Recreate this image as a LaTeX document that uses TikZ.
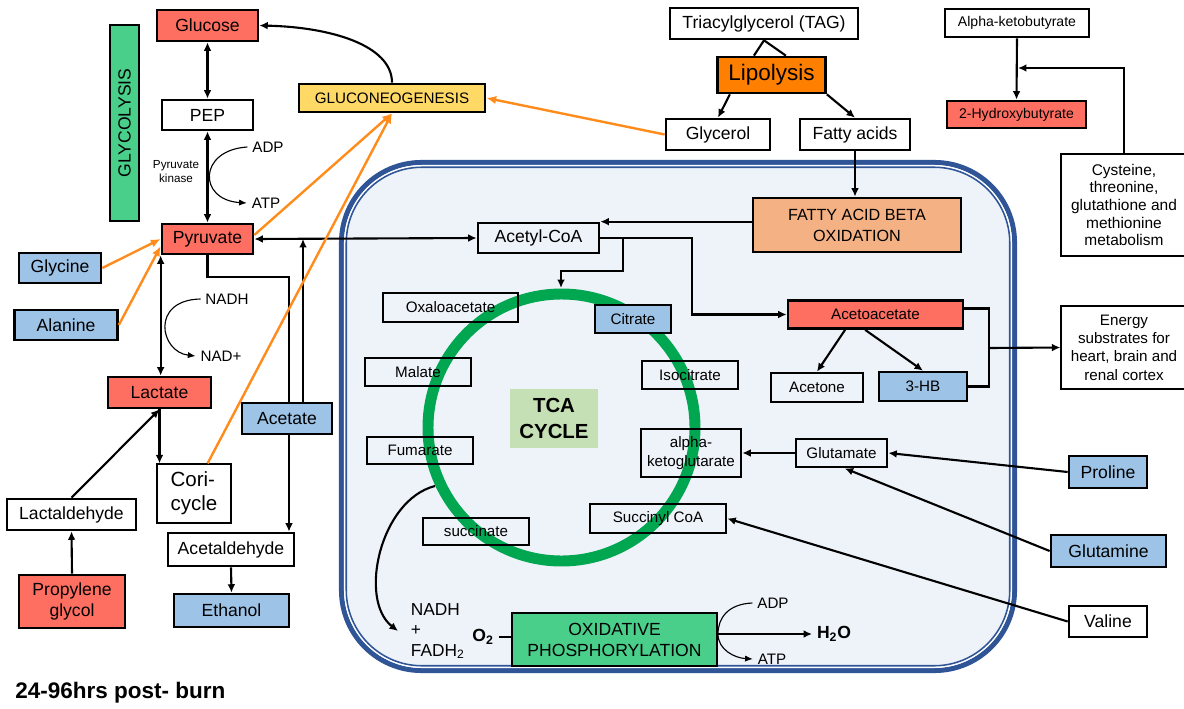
\documentclass[tikz,border=0pt]{standalone}
\usepackage{fontspec}
\setmainfont{Liberation Sans}
\usepackage{xcolor}
\usepackage{tikz}
\usetikzlibrary{arrows.meta,positioning,calc}

\definecolor{sred}{HTML}{FF6F61}
\definecolor{sblue}{HTML}{9DC3E6}
\definecolor{syellow}{HTML}{FFD966}
\definecolor{sorange}{HTML}{FF8000}
\definecolor{speach}{HTML}{F4B183}
\definecolor{sgreen}{HTML}{4ACF8B}
\definecolor{tcabg}{HTML}{C5E0B4}
\definecolor{ringgreen}{HTML}{00A650}
\definecolor{gluarrow}{HTML}{FF8C1A}
\definecolor{mitoline}{HTML}{2F5597}
\definecolor{mitofill}{HTML}{EEF3FA}

\begin{document}
\begin{tikzpicture}[x=0.025cm, y=-0.025cm,
    box/.style={draw, line width=1.9pt, inner sep=1pt, align=center},
    thinbox/.style={draw, line width=0.9pt, inner sep=1pt, align=center},
    wh/.style 2 args={minimum width=#1*0.025cm, minimum height=#2*0.025cm},
    fbig/.style={font=\fontsize{12.5}{15}\selectfont},
    fmid/.style={font=\fontsize{10.8}{13}\selectfont},
    fsmall/.style={font=\fontsize{8.3}{10}\selectfont},
    conn/.style={line width=1.5pt},
    arr/.style={line width=1.5pt, -{Latex[length=6pt,width=5.5pt]}},
    darr/.style={line width=1.5pt, {Latex[length=6pt,width=5.5pt]}-{Latex[length=6pt,width=5.5pt]}},
    garr/.style={gluarrow, line width=1.7pt, -{Latex[length=7pt,width=6pt]}},
    thinarr/.style={line width=0.8pt, -{Latex[length=5.5pt,width=4.5pt]}}]
    \useasboundingbox (0,0) rectangle (1184,709);

    % Mitochondrion
    \draw[mitoline, line width=3.6pt, fill=mitofill, rounded corners=2cm] (341.5,162.5) rectangle (1014.5,670.5);
    \draw[white, line width=1.1pt, rounded corners=1.93cm] (344.75,165.75) rectangle (1011.25,667.25);
    \draw[mitoline, line width=1.1pt, rounded corners=1.89cm] (346.25,167.25) rectangle (1009.75,665.75);

    % TCA ring
    \draw[ringgreen, line width=7.8pt] (561.5,427.5) circle [radius=133.5];
    \coordinate (ringout) at (435,486);

    % Glycolysis side
    \node[box, fill=sgreen, wh={196}{29}, rotate=90, fbig] (glycolysis) at (124.5,123) {GLYCOLYSIS};
    \node[box, fill=sred, wh={101}{31}, fbig] (glucose) at (207.5,25.5) {Glucose};
    \node[box, wh={91}{30}, fbig] (pep) at (207.5,115) {PEP};
    \node[box, fill=sred, wh={91}{30}, fbig] (pyruvate) at (207.5,239) {Pyruvate};
    \node[fsmall, align=center] (pk) at (176,172) {Pyruvate\\kinase};
    \node[fmid] (adp1) at (268,147) {ADP};
    \node[fmid] (atp1) at (266,203) {ATP};
    \node[box, fill=syellow, wh={186}{28}, fmid] (gluco) at (392,98) {GLUCONEOGENESIS};
    \node[box, fill=sblue, wh={82}{30}, fbig] (glycine) at (60,268) {Glycine};
    \node[box, fill=sblue, wh={103}{30}, fbig] (alanine) at (66,325) {Alanine};
    \node[fmid] (nadh) at (227,299) {NADH};
    \node[fmid] (nadp) at (221,356) {NAD+};
    \node[box, fill=sred, wh={103}{31}, fbig] (lactate) at (159.5,392.5) {Lactate};
    \node[thinbox, wh={74}{59}, align=left, font=\fontsize{14.6}{17}\selectfont] (cori) at (194,493.5) {Cori-\\cycle};
    \node[box, wh={129}{31}, fbig] (lactaldehyde) at (71.5,514.5) {Lactaldehyde};
    \node[box, fill=sred, wh={106}{53}, fbig] (propylene) at (72,601.5) {Propylene\\glycol};
    \node[box, wh={126}{33}, fbig] (acetaldehyde) at (231,549.5) {Acetaldehyde};
    \node[box, fill=sblue, wh={115}{33}, fbig] (ethanol) at (231.5,610.5) {Ethanol};

    % Pyruvate to acetaldehyde (under the acetate box)
    \coordinate (pybend) at (289,277);
    \draw[arr] (pyruvate.south) |- (pybend) -- (pybend |- acetaldehyde.north);
    \node[box, fill=sblue, wh={90}{31}, fbig] (acetate) at (287,418.5) {Acetate};

    % Lipolysis
    \node[box, wh={188}{31}, fbig] (tag) at (764,23.5) {Triacylglycerol (TAG)};
    \node[box, fill=sorange, wh={108}{36}, font=\fontsize{16}{19}\selectfont] (lipo) at (771.5,75) {Lipolysis};
    \node[box, wh={104}{31}, fbig] (glycerol) at (718,134.5) {Glycerol};
    \node[box, wh={110}{31}, fbig] (fatty) at (855,134.5) {Fatty acids};
    \node[box, fill=speach, wh={208}{54}, font=\fontsize{11.5}{15}\selectfont] (fabeta) at (857,225) {FATTY ACID BETA\\OXIDATION};

    % Alpha-ketobutyrate
    \node[box, wh={144}{28}, font=\fontsize{10}{12}\selectfont] (akb) at (1017,23) {Alpha-ketobutyrate};
    \node[box, fill=sred, wh={139}{27}, font=\fontsize{10}{12}\selectfont] (hb2) at (1016.5,114.5) {2-Hydroxybutyrate};
    \node[thinbox, wh={126}{102}, font=\fontsize{11}{12.5}\selectfont] (cysteine) at (1124,205) {Cysteine,\\threonine,\\glutathione and\\methionine\\metabolism};
    \coordinate (cysj) at (1018,68);

    % Inside the mitochondrion
    \node[box, wh={121}{30}, fbig] (acetyl) at (538.5,238) {Acetyl-CoA};
    \node[box, wh={135}{29}, fmid] (oxalo) at (450.5,307.5) {Oxaloacetate};
    \node[box, fill=sblue, wh={76}{28}, fmid] (citrate) at (633,319) {Citrate};
    \node[box, wh={106}{28}, fmid] (malate) at (418,372) {Malate};
    \node[box, wh={96}{28}, fmid] (isocit) at (690,375) {Isocitrate};
    \node[fill=tcabg, wh={88}{59}, align=center, font=\bfseries\fontsize{14.5}{18}\selectfont] (tca) at (554,418.5) {TCA\\CYCLE};
    \node[box, wh={106}{27}, fmid] (fumarate) at (420,450.5) {Fumarate};
    \node[box, wh={100}{48}, fmid] (akg) at (691,453) {alpha-\\ketoglutarate};
    \node[box, wh={106}{27}, fmid] (succinate) at (476,531.5) {succinate};
    \node[box, wh={136}{29}, fmid] (succoa) at (658,518.5) {Succinyl CoA};
    \node[box, fill=sred, wh={175}{28}, fmid] (acetoacetate) at (875.5,314.5) {Acetoacetate};
    \node[box, wh={92}{29}, fmid] (acetone) at (817,387.5) {Acetone};
    \node[box, fill=sblue, wh={88}{29}, fmid] (hb3) at (923,386.5) {3-HB};
    \node[box, wh={91}{28}, fmid] (glutamate) at (841.5,453) {Glutamate};
    \node[anchor=west, align=left, font=\fontsize{12.3}{14.5}\selectfont] (nadhfad) at (406,631) {NADH\\+\\FADH\textsubscript{2}};
    \node[font=\bfseries\fontsize{12.5}{15}\selectfont] (o2) at (483,637) {O\textsubscript{2}};
    \node[box, fill=sgreen, wh={205}{53}, fbig] (oxphos) at (614.5,639.5) {OXIDATIVE\\PHOSPHORYLATION};
    \node[font=\bfseries\fontsize{12.5}{15}\selectfont] (h2o) at (834,634) {H\textsubscript{2}O};
    \node[fmid] (adp2) at (773,603) {ADP};
    \node[fmid] (atp2) at (772,659) {ATP};

    % Outside on the right
    \node[thinbox, wh={126}{83}, fmid] (energy) at (1124,347.5) {Energy\\substrates for\\heart, brain and\\renal cortex};
    \node[box, fill=sblue, wh={78}{32}, fbig] (proline) at (1108,472) {Proline};
    \node[box, fill=sblue, wh={115}{32}, fbig] (glutamine) at (1108.5,551) {Glutamine};
    \node[box, wh={78}{31}, fbig] (valine) at (1108,621.5) {Valine};

    % Caption
    \node[anchor=west, inner sep=0pt, font=\bfseries\fontsize{16}{19}\selectfont] (caption) at (15,693) {24-96hrs post- burn};

    % Glycolysis arrows
    \draw[darr] (glucose.south) -- (pep.north);
    \draw[darr] (pep.south) -- (pyruvate.north);
    \draw[thinarr] (adp1.west) .. controls (198,150) and (198,200) .. (atp1.west);
    \draw[darr] (pyruvate.south west) -- (pyruvate.south west |- lactate.north);
    \draw[thinarr] (nadh.west) .. controls (150,300) and (160,352) .. (nadp.west);
    \draw[arr] (lactate.south) -- (lactate.south |- cori.north);
    \draw[arr] (lactaldehyde.north) -- (lactate.south);
    \draw[arr] (propylene.north) -- (lactaldehyde.south);
    \draw[arr] (acetaldehyde.south) -- (ethanol.north);
    \draw[darr] (pyruvate.east) -- (acetyl.west);
    \coordinate (acjoin) at (303,239);
    \draw[arr] (acetate.north -| acjoin) -- (acjoin);
    \draw[arr] (gluco.north) .. controls (392,45) and (330,27) .. (glucose.east);

    % Gluconeogenesis inputs
    \draw[garr] (glycine.east) -- (pyruvate.west);
    \draw[garr] (alanine.east) -- ([yshift=-0.18cm]pyruvate.west);
    \draw[garr] ([yshift=0.1cm]pyruvate.east) -- (gluco.south);
    \draw[garr] ([xshift=0.34cm]cori.north) -- (gluco.south);
    \draw[garr] (glycerol.west) -- (gluco.east);

    % Lipolysis arrows
    \draw[conn] (tag.south) -- ([xshift=-0.44cm]lipo.north);
    \draw[conn] (tag.south) -- ([xshift=0.36cm]lipo.north);
    \draw[arr] ([xshift=-1.04cm]lipo.south) -- (glycerol.north);
    \draw[arr] (lipo.south east) -- (fatty.north);
    \draw[arr] (fatty.south) -- (fatty.south |- fabeta.north);
    \draw[arr] (acetyl.north east -| fabeta.west) -- (acetyl.north east);

    % Acetyl-CoA to TCA and ketones
    \coordinate (acbend) at (692,314.5);
    \draw[arr] (acetyl.east) -| (acbend) -- (acetoacetate.west);
    \coordinate (acsplit) at (623,238);
    \coordinate (tcatop) at (561,288);
    \draw[arr] (acsplit) -- (623,271) -| (tcatop);
    \draw[arr] ([xshift=-0.76cm]acetoacetate.south) -- (acetone.north);
    \draw[arr] ([xshift=-0.26cm]acetoacetate.south) -- (hb3.north);
    \coordinate (kbr) at (989,348);
    \draw[conn] ([yshift=0.15cm]acetoacetate.east) -| (kbr) |- (hb3.east);
    \draw[arr] (kbr) -- (energy.west);

    % Amino acids
    \draw[arr] (glutamate.west) -- (akg.east);
    \draw[arr] (proline.west) -- (glutamate.east);
    \draw[arr] (glutamine.west) -- ([xshift=0.08cm]glutamate.south);
    \draw[arr] (valine.west) -- (succoa.east);
    \draw[arr] (akb.south) -- (hb2.north);
    \draw[arr] (cysteine.north) |- (cysj);

    % Oxidative phosphorylation
    \draw[arr] (ringout) .. controls (380,500) and (358,600) .. ([xshift=-0.2cm]nadhfad.west);
    \draw[conn] (o2.east) -- (oxphos.west |- o2.east);
    \draw[arr] (oxphos.east |- h2o) -- (h2o.west);
    \draw[thinarr] (adp2.west) .. controls (728,604) and (718,618) .. (718,634) .. controls (718,650) and (735,658) .. (atp2.west);
\end{tikzpicture}
\end{document}
